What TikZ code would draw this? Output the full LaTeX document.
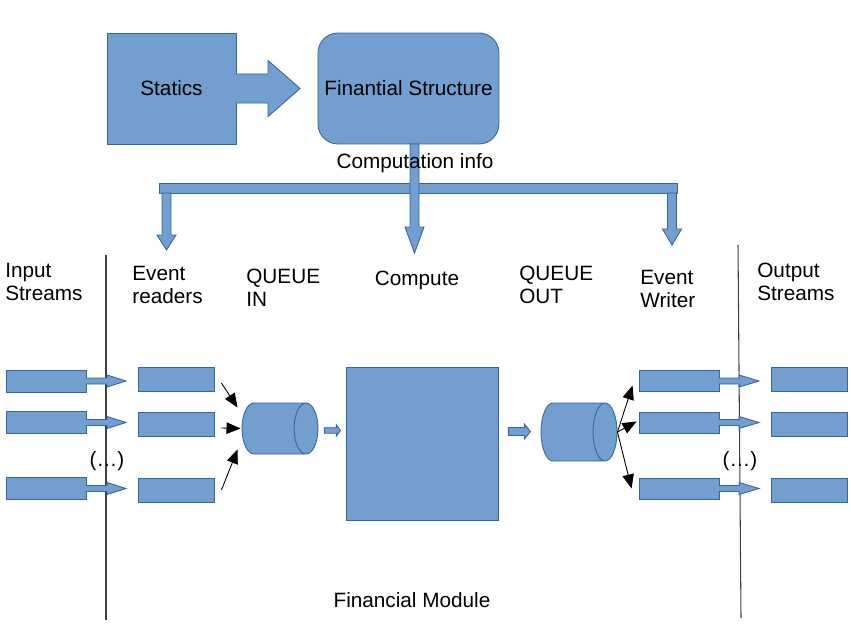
\documentclass[tikz,border=0pt]{standalone}
\usepackage{fontspec}
\setmainfont{Liberation Sans}
\usetikzlibrary{arrows.meta, positioning, shapes.geometric}
\definecolor{boxfill}{HTML}{729FCF}
\definecolor{boxline}{HTML}{3465A4}

\begin{document}
\begin{tikzpicture} [x = 0.02cm, y = -0.02cm, on grid,
every node/.style = {font = \fontsize{11.8}{13.2}\selectfont},
block/.style = {draw = boxline, fill = boxfill, line width = 0.5pt},
box/.style = {block, rectangle, inner sep = 0},
queue/.style = {block, cylinder, anchor = shape center, inner sep = 4pt, aspect = 1.7, minimum height = 1.52cm},
txt/.style = {inner sep = 0, align = left, anchor = west},
flow/.style = {-{Triangle[length = 8pt, width = 6.5pt]}, line width = 0.5pt},
divider/.style = {draw = black!75, line width = 0.6pt}]

\useasboundingbox (0,0) rectangle (851,635);

\node (st) [box, minimum width = 2.58cm, minimum height = 2.22cm] at (171.5,88.5) {Statics};
\node (fs) [box, rounded corners = 0.4cm, minimum width = 3.62cm, minimum height = 2.22cm, right = 4.74cm of st] {Finantial Structure};

\draw [block] ([xshift = -0.5pt]st.east) ++(0,-14.5) -- ++(32.5,0) -- ++(0,-13.5) -- ++(32,28) -- ++(-32,28) -- ++(0,-13.5) -- ++(-32.5,0);

% computation info fork
\draw [block] (159,183) rectangle (677,193);
\foreach \x/\top/\len/\tip in {166.5/193/42/15, 414.5/144/83/26, 672/193/36/16}
    \draw [block] (\x-4.5,\top) -- ++(0,\len) -- ++(-5,0) -- ++(9.5,\tip) -- ++(9.5,-\tip) -- ++(-5,0) -- ++(0,-\len) -- cycle;
\node (lci) at (415,163) {Computation info};

\draw [divider] (106,255) -- (106,620);
\draw [divider] (738,245) -- (741,618);

\node (lin) [txt] at (5,282) {Input\\Streams};
\node (lrd) [txt] at (132,285) {Event\\readers};
\node (lqi) [txt] at (246,288) {QUEUE\\IN};
\node (lcp) at (417,280) {Compute};
\node (lqo) [txt] at (519,285) {QUEUE\\OUT};
\node (lwr) [txt] at (640,289) {Event\\Writer};
\node (lout) [txt] at (757,282) {Output\\Streams};

% streams, readers and writers
\foreach \i/\y/\yy in {1/381/379, 2/422.5/424, 3/488.5/490} {
    \node (in\i) [box, minimum width = 1.6cm, minimum height = 0.44cm] at (46,\y) {};
    \node (rd\i) [box, minimum width = 1.52cm, minimum height = 0.48cm] at (176,\yy) {};
    \node (wr\i) [box, minimum width = 1.6cm, minimum height = 0.42cm] at (679,\y) {};
    \node (out\i) [box, minimum width = 1.52cm, minimum height = 0.48cm] at (809,\yy) {};
    \draw [block] ([xshift = -0.5pt]in\i.east) ++(0,-3) -- ++(21.5,0) -- ++(0,-3) -- ++(19,6) -- ++(-19,6) -- ++(0,-3) -- ++(-21.5,0);
    \draw [block] ([xshift = -0.5pt]wr\i.east) ++(0,-3) -- ++(20.5,0) -- ++(0,-3) -- ++(20,6) -- ++(-20,6) -- ++(0,-3) -- ++(-20.5,0);
}
\node (dots1) at (107,461) {(…)};
\node (dots2) at (740,461) {(…)};

\node (qin) [queue, minimum width = 1.02cm] at (280,428.5) {};
\node (cp) [box, minimum width = 3.04cm, minimum height = 3.06cm] at (422,443.5) {};
\node (qout) [queue, minimum width = 1.16cm] at (579,432) {};

\draw [block] ([shift = {(6,2)}]qin.east) ++(0,-2.8) -- ++(12,0) -- ++(0,-2.7) -- ++(4,5.5) -- ++(-4,5.5) -- ++(0,-2.7) -- ++(-12,0) -- cycle;
\draw [block] ([shift = {(10,-12)}]cp.east) ++(0,-4) -- ++(16,0) -- ++(0,-3.5) -- ++(6,7.5) -- ++(-6,7.5) -- ++(0,-3.5) -- ++(-16,0) -- cycle;

\draw [flow] ([shift = {(7,4)}]rd1.east) -- ([shift = {(-4,-21)}]qin.west);
\draw [flow] ([shift = {(7,4)}]rd2.east) -- ([shift = {(-1,0)}]qin.west);
\draw [flow] ([shift = {(7,0)}]rd3.east) -- ([shift = {(-4,21)}]qin.west);
\foreach \i/\dx/\dy in {1/-6/4.5, 2/-2/-1, 3/-7/0}
    \draw [flow] (qout.east) -- ([shift = {(\dx,\dy)}]wr\i.west);

\node (lfm) at (412,600) {Financial Module};
\end{tikzpicture}
\end{document}
